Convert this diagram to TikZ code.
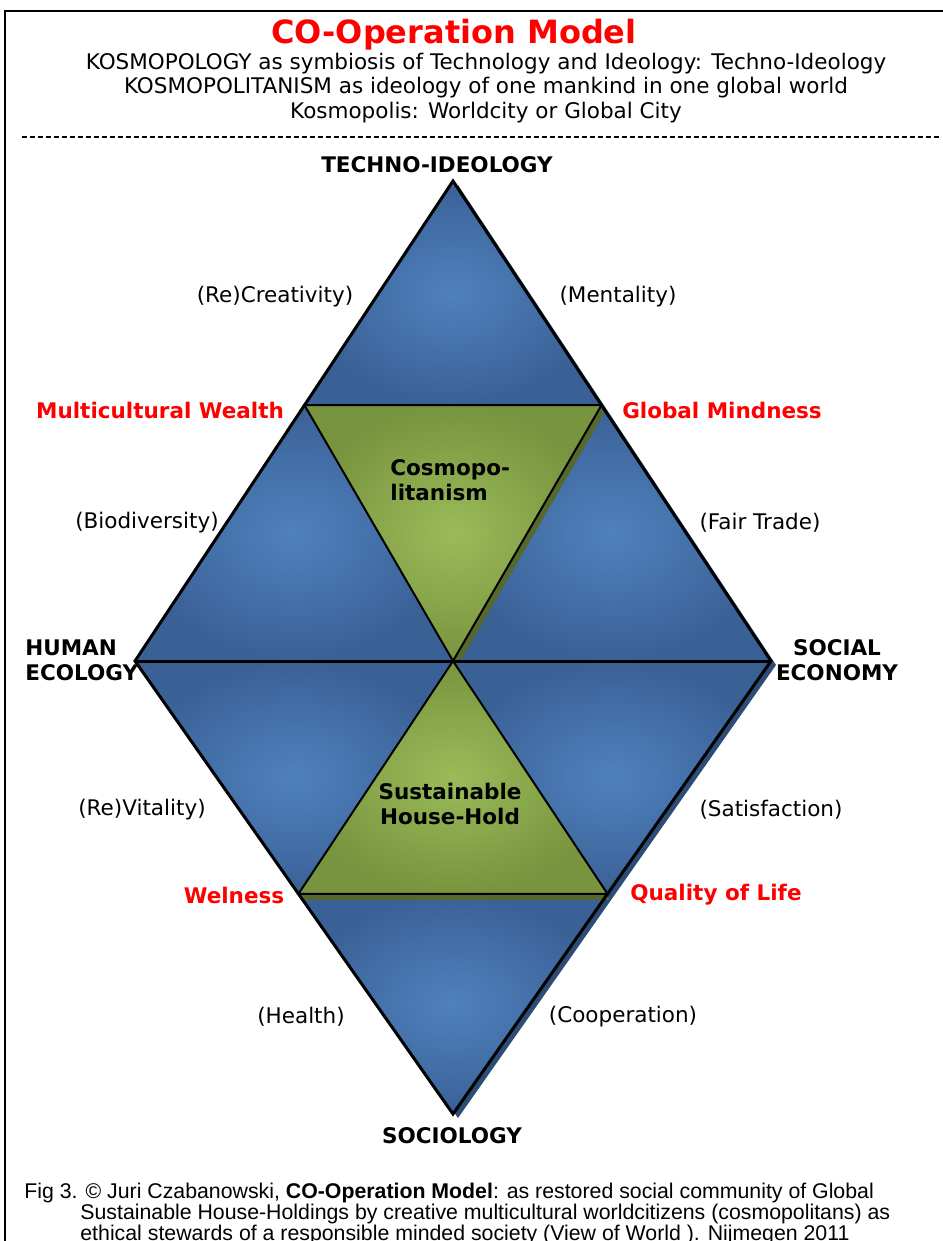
\documentclass[tikz,border=0pt]{standalone}
\usepackage{fontspec}
\setmainfont{DejaVu Sans}
\newfontfamily\captionfont{Liberation Sans}
\usetikzlibrary{positioning,calc}

\definecolor{bluelight}{HTML}{4F81BD}
\definecolor{bluedark}{HTML}{3A6196}
\definecolor{blueshadow}{HTML}{2C4D75}
\definecolor{greenlight}{HTML}{9BBB59}
\definecolor{greendark}{HTML}{78943E}
\definecolor{greenshadow}{HTML}{56692C}
\definecolor{goalred}{HTML}{FF0000}

\newcommand{\labelsize}{\fontsize{10.75}{12.5}\selectfont}

\tikzset{
  pole/.style={font=\bfseries\labelsize, inner sep=0pt, align=center},
  value/.style={font=\labelsize, inner sep=0pt},
  goal/.style={font=\bfseries\labelsize, text=goalred, inner sep=0pt},
  bluepart/.style={inner color=bluelight, outer color=bluedark},
  greenpart/.style={inner color=greenlight, outer color=greendark},
  rim/.style={line width=1.5pt, line join=miter},
  seam/.style={line width=1pt, line join=miter},
}

\begin{document}
\begin{tikzpicture}[x=0.5pt, y=-0.5pt]
  \useasboundingbox (0,0) rectangle (942,1241);
  \fill[white] (0,0) rectangle (942,1241);
  \draw[line width=1.2pt] (5,1300) -- (5,11) -- (1000,11);

  % heading
  \node[font=\bfseries\fontsize{16}{18}\selectfont, text=goalred, inner sep=0pt] (title) at (454,35) {CO-Operation Model};
  \node[font=\fontsize{10.75}{12.25}\selectfont, align=center, inner sep=0pt] (subtitle) at (486,88)
    {KOSMOPOLOGY as symbiosis of Technology and Ideology: Techno-Ideology\\
     KOSMOPOLITANISM as ideology of one mankind in one global world\\
     Kosmopolis: Worldcity or Global City};
  \coordinate (cutl) at (22,137);
  \coordinate (cutr) at (942,137);
  \draw[line width=1pt, dash pattern=on 2.5pt off 1.5pt] (cutl) -- (cutr);

  % diamond
  \coordinate (top) at (453,181);
  \coordinate (left) at (135,661);
  \coordinate (right) at (771,661);
  \coordinate (bot) at (453,1114);
  \coordinate (ctr) at (453,661);
  \coordinate (ul) at ($(top)!0.467!(left)$);
  \coordinate (ur) at ($(top)!0.467!(right)$);
  \coordinate (ll) at ($(left)!0.514!(bot)$);
  \coordinate (lr) at ($(right)!0.514!(bot)$);

  \fill[blueshadow, transform canvas={xshift=2.5pt, yshift=-2pt}] (top) -- (right) -- (bot) -- (left) -- cycle;
  \shade[bluepart] (top) -- (ur) -- (ul) -- cycle;
  \shade[bluepart] (ul) -- (ctr) -- (left) -- cycle;
  \shade[bluepart] (ur) -- (right) -- (ctr) -- cycle;
  \shade[bluepart] (left) -- (ctr) -- (ll) -- cycle;
  \shade[bluepart] (ctr) -- (right) -- (lr) -- cycle;
  \shade[bluepart] (ll) -- (lr) -- (bot) -- cycle;

  % inner triangles
  \fill[greenshadow, transform canvas={xshift=2.5pt, yshift=-2pt}] (ul) -- (ur) -- (ctr) -- cycle;
  \fill[greenshadow, transform canvas={xshift=1pt, yshift=-3pt}] (ctr) -- (lr) -- (ll) -- cycle;
  \shade[greenpart, draw=black, seam] (ul) -- (ur) -- (ctr) -- cycle;
  \shade[greenpart, draw=black, seam] (ctr) -- (lr) -- (ll) -- cycle;

  \draw[rim] (top) -- (right) -- (bot) -- (left) -- cycle;
  \draw[rim] (left) -- (right);

  % corners
  \node[pole] (techno) at ($(top)+(-16,-16)$) {TECHNO-IDEOLOGY};
  \node[pole, anchor=west, align=left] (human) at (25,660) {HUMAN\\ECOLOGY};
  \node[pole] (social) at ($(right)+(66,-1)$) {SOCIAL\\ECONOMY};
  \node[pole] (socio) at ($(bot)+(-1,22)$) {SOCIOLOGY};
  \node[pole, anchor=west, align=left] (cosmo) at (390,480) {Cosmopo-\\litanism};
  \node[pole] (house) at (450,804) {Sustainable\\House-Hold};

  % values along the rims
  \node[value] (recreat) at (275,297) {(Re)Creativity)};
  \node[value] (mental) at (618,297) {(Mentality)};
  \node[goal] (wealth) at (160,410) {Multicultural Wealth};
  \node[goal] (mind) at (722,410) {Global Mindness};
  \node[value] (biodiv) at (147,523) {(Biodiversity)};
  \node[value] (trade) at (760,523) {(Fair Trade)};
  \node[value] (revital) at (142,810) {(Re)Vitality)};
  \node[value] (satisf) at (771,810) {(Satisfaction)};
  \node[goal] (welness) at (234,895) {Welness};
  \node[goal] (quality) at (716,895) {Quality of Life};
  \node[value] (health) at (301,1017) {(Health)};
  \node[value] (coop) at (623,1017) {(Cooperation)};

  % caption
  \node[font=\captionfont\fontsize{10.65}{10.5}\selectfont, align=left, anchor=north west, inner sep=0pt] (caption) at (24,1183)
    {Fig 3. \textcopyright\ Juri Czabanowski, \textbf{CO-Operation Model}: as restored social community of Global\\
     \hspace*{28pt}Sustainable House-Holdings by creative multicultural worldcitizens (cosmopolitans) as\\
     \hspace*{28pt}ethical stewards of a responsible minded society (View of World ). Nijmegen 2011};
\end{tikzpicture}
\end{document}
